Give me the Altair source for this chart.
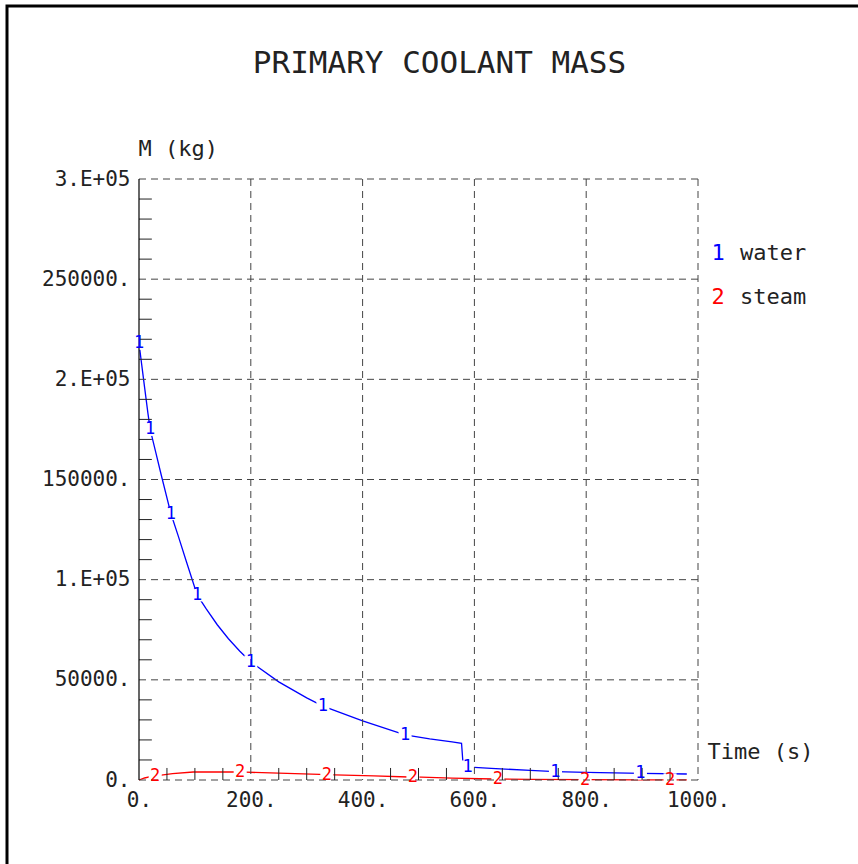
import altair as alt
import pandas as pd

# ---- data ----
water_t = [0, 5, 10, 16, 20, 30, 40, 57, 70, 85, 104, 120, 140, 160, 180, 200, 250, 300, 329,
           400, 476, 520, 560, 577, 580, 588, 600, 630, 700, 745, 800, 900, 980]
water_m = [218000, 207000, 196000, 183000, 175000, 163500, 152000, 133000, 122000, 108800, 92400,
           85500, 77500, 70500, 64400, 58900, 49000, 41000, 36900, 29500, 22500, 20500, 19000,
           18300, 6800, 6500, 6300, 5800, 4800, 4200, 3800, 3300, 3000]
steam_t = [0, 10, 22, 40, 60, 97, 175, 190, 250, 323, 350, 420, 482, 505, 560, 635, 700, 800, 900, 980]
steam_m = [0, 1000, 1800, 2400, 3200, 4000, 4000, 3900, 3400, 2800, 2600, 2100, 1500, 1400, 900,
           500, 300, 150, 100, 80]

water_label_t = [0, 20, 57, 104, 200, 329, 476, 588, 745, 897]
water_label_m = [218000, 175000, 133000, 92400, 58900, 36900, 22500, 6500, 4200, 3400]
steam_label_t = [29, 181, 336, 490, 642, 798, 950]
steam_label_m = [2000, 4000, 2700, 1500, 500, 150, 90]

series_names = ["water", "steam"]
series_nums = ["1", "2"]
series_colors = ["#0000ff", "#ff0000"]

x_grid = [200, 400, 600, 800, 1000]
x_labels = [0, 200, 400, 600, 800, 1000]
y_grid = [0, 50000, 100000, 150000, 200000, 250000, 300000]
y_label_text = ["0.", "50000.", "1.E+05", "150000.", "2.E+05", "250000.", "3.E+05"]
x_minor = [v for v in range(50, 1000, 50) if v % 200 != 0]
y_minor = [v for v in range(10000, 300000, 10000) if v % 50000 != 0]

title_text = "PRIMARY COOLANT MASS"
x_title = "Time (s)"
y_title = "M (kg)"

FONT = "DejaVu Sans Mono"
TXT = "#222222"

# ---- tables ----
curves = pd.concat([
    pd.DataFrame({"t": water_t, "m": water_m, "series": "water"}),
    pd.DataFrame({"t": steam_t, "m": steam_m, "series": "steam"}),
])
labels = pd.concat([
    pd.DataFrame({"t": water_label_t, "m": water_label_m, "series": "water", "num": "1"}),
    pd.DataFrame({"t": steam_label_t, "m": steam_label_m, "series": "steam", "num": "2"}),
])

y_expr = "".join(f"datum.value == {v} ? '{s}' : " for v, s in zip(y_grid, y_label_text)) + "''"

x_scale = alt.Scale(domain=[0, 1000], nice=False, zero=False)
y_scale = alt.Scale(domain=[0, 300000], nice=False)
color_scale = alt.Scale(domain=series_names, range=series_colors)

x_axis = alt.Axis(values=x_labels, labelExpr="datum.value + '.'", grid=False, ticks=False,
                  domain=False, labelFont=FONT, labelFontSize=21, labelColor=TXT,
                  labelPadding=9, title=x_title, titleFont=FONT, titleFontSize=22,
                  titleFontWeight="normal", titleColor=TXT, titleX=568, titleY=-22,
                  titleAlign="left", titleBaseline="alphabetic", titleAngle=0,
                  labelOverlap=False, labelFlush=False)
y_axis = alt.Axis(values=y_grid, labelExpr=y_expr, grid=False, ticks=False, domain=False,
                  labelFont=FONT, labelFontSize=21, labelColor=TXT, labelPadding=9,
                  title=y_title, titleFont=FONT, titleFontSize=22, titleFontWeight="normal",
                  titleColor=TXT, titleX=-1, titleY=-24, titleAlign="left",
                  titleBaseline="alphabetic", titleAngle=0, labelOverlap=False, labelFlush=False)


def X(f="t:Q"):
    return alt.X(f, scale=x_scale, axis=x_axis)


def Y(f="m:Q"):
    return alt.Y(f, scale=y_scale, axis=y_axis)


one = pd.DataFrame({"a": [0]})

frame = alt.Chart(one).mark_rect(fillOpacity=0, stroke="black", strokeWidth=3, clip=False).encode(
    x=alt.value(-132), x2=alt.value(740), y=alt.value(-173), y2=alt.value(710))

lines = alt.Chart(curves).mark_line(strokeWidth=1.3, clip=False).encode(
    x=X(), y=Y(), color=alt.Color("series:N", scale=color_scale, legend=None))

boxes = alt.Chart(labels).mark_square(size=170, color="white", opacity=1, filled=True).encode(
    x=X(), y=Y())

vgrid = alt.Chart(pd.DataFrame({"t": x_grid})).mark_rule(
    color="#444444", strokeDash=[7, 5], strokeWidth=1).encode(x=X())
hgrid = alt.Chart(pd.DataFrame({"m": y_grid})).mark_rule(
    color="#444444", strokeDash=[7, 5], strokeWidth=1).encode(y=Y())

yticks = alt.Chart(pd.DataFrame({"m": y_minor})).mark_rule(color="#222222", strokeWidth=1).encode(
    x=alt.datum(0, scale=x_scale), x2=alt.datum(23), y=Y())
xticks = alt.Chart(pd.DataFrame({"t": x_minor})).mark_rule(color="#222222", strokeWidth=1).encode(
    x=X(), y=alt.datum(0, scale=y_scale), y2=alt.datum(6000))
yline = alt.Chart(one).mark_rule(color="black", strokeWidth=1.2).encode(x=alt.datum(0, scale=x_scale))

curve_labels = alt.Chart(labels).mark_text(font=FONT, fontSize=17, baseline="middle",
                                           align="center").encode(
    x=X(), y=Y(), text="num:N", color=alt.Color("series:N", scale=color_scale, legend=None))

title = alt.Chart(one).mark_text(font=FONT, fontSize=31, color=TXT, align="center",
                                 baseline="alphabetic").encode(
    x=alt.value(300.5), y=alt.value(-106), text=alt.value(title_text))

legend_layers = []
for i, (num, name, col) in enumerate(zip(series_nums, series_names, series_colors)):
    base_y = 81 + 44 * i
    legend_layers.append(alt.Chart(one).mark_text(font=FONT, fontSize=22, color=col, align="center",
                                                  baseline="alphabetic").encode(
        x=alt.value(579), y=alt.value(base_y), text=alt.value(num)))
    legend_layers.append(alt.Chart(one).mark_text(font=FONT, fontSize=22, color=TXT, align="left",
                                                  baseline="alphabetic").encode(
        x=alt.value(601), y=alt.value(base_y), text=alt.value(name)))

chart = alt.layer(frame, lines, boxes, vgrid, hgrid, yticks, xticks, yline, curve_labels, title,
                  *legend_layers).properties(
    width=559, height=601,
    autosize=alt.AutoSizeParams(type="none"),
    padding={"left": 139, "top": 179, "right": 160, "bottom": 84},
    background="white",
).configure_view(stroke=None)

chart.save("out.html", embed_options={"renderer": "svg", "actions": False})
